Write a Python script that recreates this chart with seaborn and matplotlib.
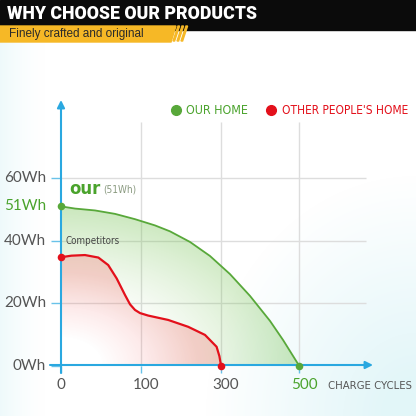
import numpy as np
import pandas as pd
import matplotlib.pyplot as plt
import seaborn as sns
from matplotlib import font_manager as fm
from matplotlib.patches import Rectangle, Polygon
from matplotlib.transforms import ScaledTranslation

# values
cycle_ticks = [0, 100, 300, 500]
cycle_labels = ['0', '100', '300', '500']
wh_ticks = [0, 20, 40, 51, 60]
wh_labels = ['0Wh', '20Wh', '40Wh', '51Wh', '60Wh']

our_cycles = [0, 17.5, 42.5, 67.5, 92.5, 135, 172.5, 222.5, 272.5, 323, 374.4, 425.6, 459, 477, 500]
our_wh = [51, 50.3, 49.7, 48.6, 46.9, 44.9, 43.0, 39.6, 35.1, 29.3, 22.3, 14.3, 8.2, 4.6, 0]

other_cycles = [0, 13, 30, 46.7, 59, 69.6, 80, 86.3, 92.5, 98.8, 118, 168, 218, 260, 289, 296, 300]
other_wh = [34.7, 35.2, 35.4, 34.6, 32.2, 27.9, 22.6, 19.6, 17.8, 16.8, 16.0, 14.6, 12.4, 9.8, 6.0, 3.0, 0]

GREEN = '#58a83a'
GREEN_TXT = '#4aa32c'
RED = '#e3101b'
BLUE = '#2aa8e0'
GRAY = '#555555'

sns.set_theme(style='white')

# a narrow face if one is installed, else Roboto
narrow_fam, narrow_stretch = 'Roboto', 'normal'
for f in fm.fontManager.ttflist:
    if ('Narrow' in f.name or 'Condensed' in f.name or f.stretch == 'condensed') and f.style == 'normal':
        narrow_fam, narrow_stretch = f.name, f.stretch
        break

# x axis: ticks are spaced evenly on the picture, not linearly
brk_c = np.array(cycle_ticks, float)
brk_p = np.array([0, 80, 160, 238], float)


def fwd(c):
    c = np.asarray(c, float)
    out = np.interp(c, brk_c, brk_p)
    out = np.where(c < 0, c * 0.8, out)
    return np.where(c > 500, 238 + (c - 500) * 0.39, out)


def inv(p):
    p = np.asarray(p, float)
    out = np.interp(p, brk_p, brk_c)
    out = np.where(p < 0, p / 0.8, out)
    return np.where(p > 238, 500 + (p - 238) / 0.39, out)


def cx(px):
    return float(inv(px - 61))


def wy(py):
    return (365.5 - py) / 3.12


def fp(px, py):
    return px / 416, 1 - py / 416


fig = plt.figure(figsize=(4.16, 4.16), dpi=100)
renderer = fig.canvas.get_renderer()


def put(px, py, s, width, size=10, **kw):
    # text whose size is fitted to the width it has in the picture
    t = fig.text(*fp(px, py), s, fontsize=size, va='center', **kw)
    w = t.get_window_extent(renderer).width
    t.set_fontsize(size * width / w)
    return t


# pale background
gx, gy = np.meshgrid(np.arange(416) + 0.5, np.arange(416) + 0.5)
left = np.clip(1 - gx / 45, 0, 1) ** 1.5 * 0.6
br = np.clip(1 - np.sqrt(((416 - gx) / 210) ** 2 + ((416 - gy) / 240) ** 2), 0, 1) * 1.2
t = np.clip(np.maximum(left, br), 0, 1)[..., None]
bg = (1 - t) * np.ones(3) + t * np.array([0.89, 0.965, 0.975])
fig.figimage(bg[::-1], xo=0, yo=0, zorder=-1, origin='lower')

ax = fig.add_axes([0, 0, 1, 1])
ax.set_xscale('function', functions=(fwd, inv))
ax.axis('off')

# gradient fills under the curves
pos = gx - 61
whg = (365.5 - gy) / 3.12
r_g = np.sqrt((pos / 238) ** 2 + (whg / 51) ** 2)
a_g = 0.40 * np.clip((r_g - 0.35) / 0.65, 0, 1) ** 1.3
img_g = np.dstack([np.full_like(a_g, 0.48), np.full_like(a_g, 0.77), np.full_like(a_g, 0.35), a_g])
r_r = np.sqrt((pos / 160) ** 2 + (whg / 35) ** 2)
a_r = 0.28 * np.clip((r_r - 0.25) / 0.6, 0, 1)
img_r = np.dstack([np.full_like(a_r, 0.96), np.full_like(a_r, 0.38), np.full_like(a_r, 0.38), a_r])

poly_g = ax.fill_between(our_cycles, our_wh, 0, color='none', lw=0)
poly_r = ax.fill_between(other_cycles, other_wh, 0, color='none', lw=0)
im_g = ax.imshow(img_g, extent=[0, 1, 0, 1], transform=ax.transAxes, aspect='auto', zorder=1)
im_g.set_clip_path(poly_g.get_paths()[0], ax.transData)
im_r = ax.imshow(img_r, extent=[0, 1, 0, 1], transform=ax.transAxes, aspect='auto', zorder=1.1)
im_r.set_clip_path(poly_r.get_paths()[0], ax.transData)

# grid lines
ax.vlines(cycle_ticks[1:], 0, wy(122), color='#dddddd', lw=1, zorder=0.5)
ax.hlines([w for w in wh_ticks if w not in (0, 51)], 0, cx(366), color='#dddddd', lw=1, zorder=0.5)

# curves
our = pd.DataFrame({'cycles': our_cycles, 'wh': our_wh})
other = pd.DataFrame({'cycles': other_cycles, 'wh': other_wh})
sns.lineplot(data=our, x='cycles', y='wh', color=GREEN, lw=1.3, ax=ax, zorder=3)
sns.lineplot(data=other, x='cycles', y='wh', color=RED, lw=1.6, ax=ax, zorder=3)
sns.scatterplot(data=our.iloc[[0, -1]], x='cycles', y='wh', color=GREEN, s=30, linewidth=0, ax=ax, zorder=5)
sns.scatterplot(data=other.iloc[[0, -1]], x='cycles', y='wh', color=RED, s=30, linewidth=0, ax=ax, zorder=5)

# axes arrows and ticks
ax.annotate('', xy=(61, 416 - 100), xytext=(61, 416 - 373), xycoords='figure pixels',
            arrowprops=dict(arrowstyle='-|>', color=BLUE, lw=1.5, mutation_scale=11, shrinkA=0, shrinkB=0), zorder=4)
ax.annotate('', xy=(373, 416 - 365), xytext=(50, 416 - 365), xycoords='figure pixels',
            arrowprops=dict(arrowstyle='-|>', color=BLUE, lw=1.5, mutation_scale=11, shrinkA=0, shrinkB=0), zorder=4)
ax.hlines([w for w in wh_ticks if w != 51], cx(51), 0, color=BLUE, lw=1, alpha=0.7, zorder=4)
ax.vlines(cycle_ticks, wy(373), 0, color=BLUE, lw=1, alpha=0.7, zorder=4)

# tick labels
for w, lab in zip(wh_ticks, wh_labels):
    ax.text(46 / 416, w, lab, transform=ax.get_yaxis_transform(), ha='right', va='center',
            fontsize=11, family='Lato', color=GREEN_TXT if w == 51 else GRAY)
for c, lab in zip(cycle_ticks, cycle_labels):
    shift = ScaledTranslation(0.05 if c else 0.0, 0, fig.dpi_scale_trans)
    ax.text(c, 1 - 385 / 416, lab, transform=ax.get_xaxis_transform() + shift, ha='center', va='center',
            fontsize=11, family='Lato', color=GREEN_TXT if c == 500 else GRAY)

nk = dict(family=narrow_fam, stretch=narrow_stretch)
put(328, 386, 'CHARGE CYCLES', 84, color=GRAY, **nk)

# annotations
put(69, 189, 'our', 31, weight='bold', color=GREEN_TXT, **nk)
put(103, 190, '(51Wh)', 33, color='#8a9a80', **nk)
put(65, 241, 'Competitors', 54, color='#444444', **nk)

# legend
ax.plot([176 / 416], [1 - 110 / 416], 'o', ms=7, color=GREEN, transform=fig.transFigure, clip_on=False)
ax.plot([271 / 416], [1 - 110 / 416], 'o', ms=7, color=RED, transform=fig.transFigure, clip_on=False)
put(186, 110, 'OUR HOME', 62, color=GREEN_TXT, **nk)
put(282, 110, "OTHER PEOPLE'S HOME", 127, color=RED, **nk)

# header
fig.add_artist(Rectangle(fp(0, 30), 1, 30 / 416, transform=fig.transFigure, color='#0b0b0b', zorder=5))
fig.add_artist(Polygon([fp(0, 26), fp(176, 26), fp(171, 42), fp(0, 42)], transform=fig.transFigure,
                       color='#f6b826', zorder=6))
for x0 in (178, 182, 186):
    fig.add_artist(Polygon([fp(x0, 26), fp(x0 + 1.6, 26), fp(x0 - 3.4, 41), fp(x0 - 5, 41)],
                           transform=fig.transFigure, color='#f6b826', zorder=6))
put(7, 14, 'WHY CHOOSE OUR PRODUCTS', 250, family='Roboto', weight='black', color='white', zorder=7)
put(9, 34, 'Finely crafted and original', 136, family='Liberation Sans', color='#2a2a2a', zorder=7)

ax.set_xlim(cx(0), cx(416))
ax.set_ylim(wy(416), wy(0))

fig.savefig('out.png', dpi=100)
